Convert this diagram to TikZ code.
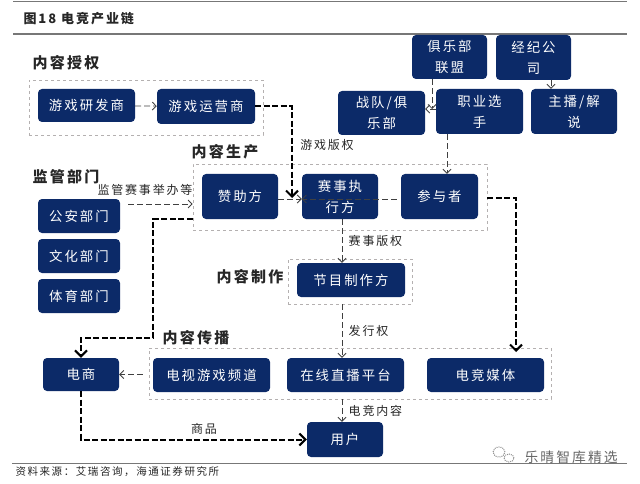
\documentclass[tikz,border=0pt]{standalone}
\usepackage{fontspec}
\setmainfont[LetterSpace=15]{Noto Sans CJK SC}
\usetikzlibrary{positioning,arrows.meta}
\definecolor{boxblue}{HTML}{0C2A68}
\definecolor{grpgray}{HTML}{B4B0B0}
\definecolor{rulegray}{HTML}{777777}
\tikzset{
	box/.style 2 args={fill=boxblue,rounded corners=4pt,text=white,align=center,inner sep=0pt,
		minimum width=#1pt,minimum height=#2pt,font=\fontsize{13.4}{21}\selectfont},
	grp/.style 2 args={draw=grpgray,dashed,thick,inner sep=0pt,minimum width=#1pt,minimum height=#2pt},
	head/.style={font=\fontsize{15}{18}\bfseries,text=black!85},
	lbl/.style={font=\fontsize{12}{14}\selectfont,text=black!85},
	thin dash/.style={dash pattern=on 6pt off 3pt,line width=0.8pt,black!75,>={Straight Barb[length=4pt,width=8pt]}},
	thick dash/.style={dash pattern=on 6pt off 2.5pt,line width=2pt,black,>={Straight Barb[length=6pt,width=12pt]}}
}
\begin{document}
\begin{tikzpicture}[->,x=1pt,y=-1pt]
\useasboundingbox(0,0)rectangle(640,484);

%rules
\coordinate(r1l)at(13,2);\coordinate(r1r)at(627,2);
\coordinate(r2l)at(13,34);\coordinate(r2r)at(627,34);
\coordinate(r3l)at(12,463.5);\coordinate(r3r)at(627,463.5);
\path[-,draw=rulegray,line width=1pt](r1l)--(r1r);
\path[-,draw=rulegray,line width=1.3pt](r2l)--(r2r);
\path[-,draw=rulegray,line width=1.6pt](r3l)--(r3r);

\node[font=\fontsize{13}{16}\bfseries,anchor=west,text=black!85](title)at(20,19){图18 电竞产业链};
\node[font=\fontsize{10.5}{12}\selectfont,anchor=west,text=black!85](source)at(12,472){资料来源：艾瑞咨询，海通证券研究所};
\node[font=\fontsize{13.8}{15}\selectfont,anchor=west,text=black!60](mark)at(521,457){乐晴智库精选};

%dashed groups
\node[grp={234}{55}](gauth)at(146,107.5){};
\node[grp={294}{66}](gprod)at(340,197){};
\node[grp={124}{45}](gmake)at(350,281.5){};
\node[grp={402}{51}](gdist)at(350,373.5){};

\node[box={97}{33}](dev)at(86.5,105.5){游戏研发商};
\node[box={98}{35}](oper)at(206,106.5){游戏运营商};
\node[box={76}{45}](spon)at(240,196.5){赞助方};
\node[box={76}{45}](exec)at(340,196.5){赛事执\\行方};
\node[box={77}{45}](part)at(439.5,196.5){参与者};
\node[box={75}{44}](leag)at(449.5,57){俱乐部\\联盟};
\node[box={75}{45}](agen)at(533.5,57.5){经纪公\\司};
\node[box={87}{44}](team)at(381.5,113){战队/俱\\乐部};
\node[box={87}{45}](play)at(479.5,111.5){职业选\\手};
\node[box={86}{45}](host)at(574,111.5){主播/解\\说};
\node[box={82}{34}](pol)at(79,216){公安部门};
\node[box={82}{34}](cul)at(79,256){文化部门};
\node[box={82}{34}](spo)at(79,296){体育部门};
\node[box={108}{34}](show)at(351,280){节目制作方};
\node[box={76}{33}](shop)at(81,374.5){电商};
\node[box={117}{34}](tv)at(211.5,375){电视游戏频道};
\node[box={117}{34}](live)at(345.5,375){在线直播平台};
\node[box={117}{34}](media)at(485.5,375){电竞媒体};
\node[box={76}{35}](user)at(345,439.5){用户};

\node[head](hauth)at(66,63){内容授权};
\node[head](hprod)at(225,152){内容生产};
\node[head](hreg)at(66,177){监管部门};
\node[head](hmake)at(250,277){内容制作};
\node[head](hdist)at(196,338){内容传播};

\node[lbl](lgame)at(327,145){游戏版权};
\node[lbl](lreg)at(145,190){监管赛事举办等};
\node[lbl](lgoods)at(204,429){商品};

%free ends
\coordinate(regs)at(128,204);
\coordinate(opend)at(292,198);
\coordinate(mediaend)at(516,352);
\coordinate(leagend)at(432,109);

\path[thin dash](dev)edge(oper)
	([yshift=-2.5pt]spon.east)edge([yshift=-2.5pt]exec.west)
	([xshift=-4pt,yshift=-2.5pt]part.west)edge([yshift=-2.5pt]exec.west)
	([xshift=-17.5pt]leag.south)edge(leagend)
	(play.west|-leagend)edge(team.east|-leagend)
	([xshift=17.5pt]agen.south)edge([xshift=-23pt]host.north)
	([xshift=-32.5pt]play.south)edge([xshift=7.5pt]part.north)
	([xshift=2pt]exec.south)edge node[right=3pt,lbl,black!85]{赛事版权}([xshift=-9pt]show.north)
	([xshift=-8pt]gmake.south)edge node[right=3pt,lbl,black!85]{发行权}([xshift=-3.5pt]live.north)
	([xshift=-8pt]gdist.south)edge node[right=3pt,lbl,black!85]{电竞内容}([xshift=-3pt]user.north)
	(regs)edge(gprod.west|-regs)
	([xshift=-6pt]gdist.west|-shop.east)edge(shop.east);

\draw[thick dash](oper.east)-|(opend);
\draw[thick dash]([yshift=-22pt]gprod.west)-|(153,338)-|(shop.north);
\draw[thick dash](gprod.east|-opend)-|(mediaend);
\draw[thick dash](shop.south)|-(user.west);

%wechat icon
\draw[-,black!45,densely dotted,line width=1pt](499,452)circle[x radius=6pt,y radius=5pt];
\draw[-,black!45,densely dotted,line width=1pt](509,458)circle[x radius=5pt,y radius=4pt];
\end{tikzpicture}
\end{document}
